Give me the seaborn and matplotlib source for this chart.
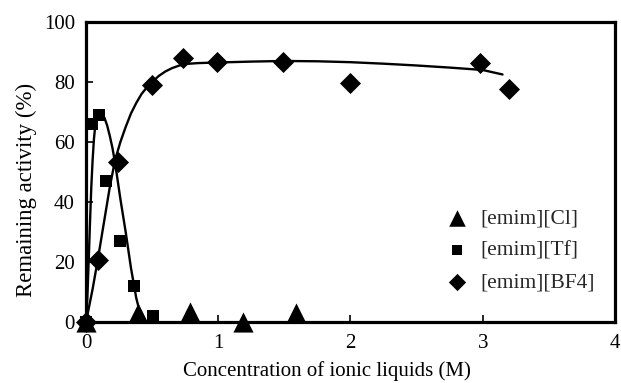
import matplotlib
matplotlib.use("Agg")
import matplotlib.pyplot as plt
import seaborn as sns

# ---- data ----
cl_x = [0.0, 0.39, 0.79, 1.19, 1.59]
cl_y = [0.0, 3.0, 3.3, 0.0, 3.0]

tf_x = [0.0, 0.045, 0.10, 0.15, 0.26, 0.36, 0.51]
tf_y = [0.0, 66.0, 69.0, 47.0, 27.0, 12.0, 2.0]

bf4_x = [0.0, 0.09, 0.24, 0.50, 0.73, 0.99, 1.49, 2.0, 2.98, 3.20]
bf4_y = [0.0, 20.5, 53.3, 79.0, 88.0, 86.5, 86.7, 79.8, 86.3, 77.8]

# fitted curves
tf_fit_x = [0.0, 0.01, 0.02, 0.03, 0.04, 0.05, 0.06, 0.07, 0.08, 0.095, 0.11, 0.125, 0.14,
            0.16, 0.18, 0.20, 0.22, 0.24, 0.26, 0.28, 0.30, 0.32, 0.34, 0.36, 0.38, 0.40,
            0.42, 0.44, 0.45]
tf_fit_y = [0.0, 8.0, 20.0, 33.0, 45.0, 54.0, 61.0, 65.5, 68.0, 69.3, 69.5, 69.0, 68.0,
            65.5, 62.0, 58.0, 53.0, 47.0, 41.0, 35.5, 30.0, 24.0, 18.0, 13.0, 8.0, 4.5,
            2.0, 0.5, 0.0]

bf4_fit_x = [0.0, 0.05, 0.09, 0.12, 0.15, 0.18, 0.22, 0.26, 0.30, 0.34, 0.38, 0.42, 0.46,
             0.50, 0.55, 0.60, 0.65, 0.70, 0.75, 0.85, 1.0, 1.25, 1.5, 1.75, 2.0, 2.25,
             2.5, 2.75, 3.0, 3.15]
bf4_fit_y = [0.0, 11.0, 21.0, 29.0, 37.0, 45.0, 54.0, 60.0, 65.0, 69.5, 73.0, 76.0, 78.2,
             80.0, 82.0, 83.5, 84.6, 85.4, 86.0, 86.3, 86.5, 86.8, 87.0, 86.9, 86.6, 86.1,
             85.5, 84.8, 84.0, 82.5]

labels = ["[emim][Cl]", "[emim][Tf]", "[emim][BF4]"]
x_ticks = [0, 1, 2, 3, 4]
y_ticks = [0, 20, 40, 60, 80, 100]

sns.set_theme(style="white")
plt.rcParams['font.family'] = ['Liberation Serif', 'DejaVu Serif']

fig = plt.figure(figsize=(6.21, 3.83), dpi=100)
ax = fig.add_axes([0.1385, 0.1593, 0.8517, 0.7833])

# curves
sns.lineplot(x=tf_fit_x, y=tf_fit_y, ax=ax, color="black", lw=1.7, sort=False,
             estimator=None, zorder=2)
sns.lineplot(x=bf4_fit_x, y=bf4_fit_y, ax=ax, color="black", lw=1.7, sort=False,
             estimator=None, zorder=2)

# markers
sns.scatterplot(x=cl_x, y=cl_y, ax=ax, marker="^", s=210, color="black",
                edgecolor="black", linewidth=0, label=labels[0], zorder=4, clip_on=False)
sns.scatterplot(x=tf_x, y=tf_y, ax=ax, marker="s", s=65, color="black",
                edgecolor="black", linewidth=0, label=labels[1], zorder=4, clip_on=False)
sns.scatterplot(x=bf4_x, y=bf4_y, ax=ax, marker="D", s=115, color="black",
                edgecolor="black", linewidth=0, label=labels[2], zorder=4, clip_on=False)

ax.set_xlim(0, 4)
ax.set_ylim(0, 100)
ax.set_xticks(x_ticks)
ax.set_yticks(y_ticks)
ax.tick_params(axis="both", direction="in", length=5, width=1.2, colors="black",
               labelsize=15, bottom=True, left=True, top=False, right=False)
ax.tick_params(axis="x", pad=9)
ax.tick_params(axis="y", pad=8)

for sp in ax.spines.values():
    sp.set_visible(True)
    sp.set_color("black")
    sp.set_linewidth(2.3)
    sp.set_zorder(3)

ax.set_xlabel("Concentration of ionic liquids (M)", fontsize=15, color="black")
ax.set_ylabel("Remaining activity (%)", fontsize=16.5, color="black")
ax.xaxis.set_label_coords(0.456, -0.13)
ax.yaxis.set_label_coords(-0.092, 0.44)

leg = ax.legend(loc="lower right", bbox_to_anchor=(0.99, 0.048), frameon=False,
                fontsize=15.5, handletextpad=0.05, labelspacing=0.55, borderpad=0.2,
                markerscale=0.82)

fig.savefig("out.png", dpi=100, facecolor="white")
